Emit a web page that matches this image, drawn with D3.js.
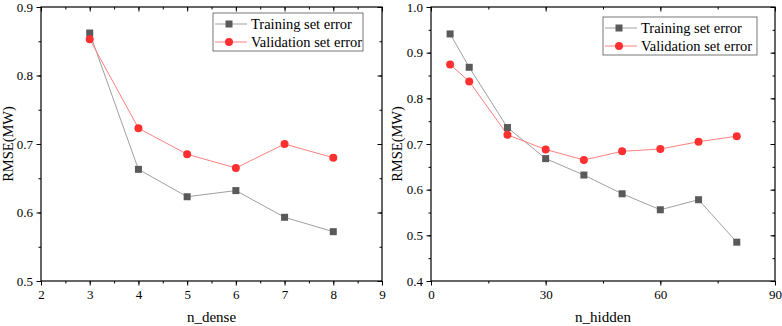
<!DOCTYPE html>
<html><head><meta charset="utf-8">
<script src="https://cdn.jsdelivr.net/npm/d3@7"></script>
<style>body{margin:0;background:#fff}svg{display:block}text{font-family:"Liberation Serif","Times New Roman",serif}</style>
</head><body>
<svg id="c" width="782" height="326"></svg>
<script>
const leftX = [3,4,5,6,7,8];
const leftTrain = [0.862,0.663,0.623,0.632,0.593,0.572];
const leftVal = [0.853,0.723,0.685,0.665,0.700,0.680];
const leftXTicks = [2,3,4,5,6,7,8,9];
const leftYTicks = [0.5,0.6,0.7,0.8,0.9];

const rightX = [5,10,20,30,40,50,60,70,80];
const rightTrain = [0.941,0.868,0.736,0.668,0.632,0.591,0.556,0.578,0.485];
const rightVal = [0.874,0.837,0.720,0.688,0.665,0.684,0.689,0.705,0.717];
const rightXTicks = [0,30,60,90];
const rightYTicks = [0.4,0.5,0.6,0.7,0.8,0.9,1.0];

const seriesNames = ["Training set error","Validation set error"];

const svg = d3.select("#c");

function panel(o){
  const g = svg.append("g");
  const x = d3.scaleLinear().domain(o.xd).range([o.x0,o.x1]);
  const y = d3.scaleLinear().domain(o.yd).range([o.y1,o.y0]);
  const tickLen = 4.5, minorLen = 2.5;
  const xMinor = d3.range(o.xd[0], o.xd[1]+1e-9, o.xMinorStep);
  const yMinor = d3.range(o.yd[0], o.yd[1]+1e-9, 0.05);
  const axB = d3.axisBottom(x).tickValues(o.xt).tickSize(tickLen).tickPadding(4).tickFormat(d3.format("d"));
  const axL = d3.axisLeft(y).tickValues(o.yt).tickSize(tickLen).tickPadding(3.5).tickFormat(d3.format(".1f"));
  const axT = d3.axisTop(x).tickValues(o.xt).tickSize(-tickLen).tickFormat("");
  const axR = d3.axisRight(y).tickValues(o.yt).tickSize(-tickLen).tickFormat("");
  const mB = d3.axisBottom(x).tickValues(xMinor).tickSize(minorLen).tickFormat("");
  const mL = d3.axisLeft(y).tickValues(yMinor).tickSize(minorLen).tickFormat("");
  const mT = d3.axisTop(x).tickValues(xMinor).tickSize(-minorLen).tickFormat("");
  const mR = d3.axisRight(y).tickValues(yMinor).tickSize(-minorLen).tickFormat("");
  const add = (ax, tr) => {
    const a = g.append("g").attr("transform", tr).call(ax);
    a.select(".domain").remove();
    a.selectAll("line").attr("stroke","#000").attr("stroke-width",1);
    a.selectAll("text").attr("font-size",13).attr("fill","#000");
    return a;
  };
  add(mB,`translate(0,${o.y1})`); add(mL,`translate(${o.x0},0)`);
  add(mT,`translate(0,${o.y0})`); add(mR,`translate(${o.x1},0)`);
  add(axB,`translate(0,${o.y1})`); add(axL,`translate(${o.x0},0)`);
  add(axT,`translate(0,${o.y0})`); add(axR,`translate(${o.x1},0)`);
  g.append("rect").attr("x",o.x0).attr("y",o.y0).attr("width",o.x1-o.x0).attr("height",o.y1-o.y0)
    .attr("fill","none").attr("stroke","#000").attr("stroke-width",1.2);

  const line = d3.line().x(d=>x(d[0])).y(d=>y(d[1]));
  const tr = o.xs.map((v,i)=>[v,o.train[i]]);
  const va = o.xs.map((v,i)=>[v,o.val[i]]);
  g.append("path").datum(tr).attr("d",line).attr("fill","none").attr("stroke","#a0a0a0").attr("stroke-width",1);
  g.append("path").datum(va).attr("d",line).attr("fill","none").attr("stroke","#ff8080").attr("stroke-width",1);
  g.selectAll(".sq").data(tr).enter().append("rect")
    .attr("x",d=>x(d[0])-3.5).attr("y",d=>y(d[1])-3.5).attr("width",7).attr("height",7).attr("fill","#5a5a5a");
  g.selectAll(".ci").data(va).enter().append("circle")
    .attr("cx",d=>x(d[0])).attr("cy",d=>y(d[1])).attr("r",4).attr("fill","#ff3030");

  g.append("text").attr("x",(o.x0+o.x1)/2).attr("y",322).attr("text-anchor","middle").attr("font-size",15).text(o.xTitle);
  g.append("text").attr("transform",`translate(${o.yTitleX},${(o.y0+o.y1)/2}) rotate(-90)`).attr("text-anchor","middle")
    .attr("dy","0.35em").attr("font-size",14.5).text("RMSE(MW)");

  const L = o.leg;
  g.append("rect").attr("x",L.x).attr("y",L.y).attr("width",L.w).attr("height",38).attr("fill","#fff").attr("stroke","#555").attr("stroke-width",0.8);
  const rows = [{c:"#a0a0a0",m:"#5a5a5a",sq:true},{c:"#ff8080",m:"#ff3030",sq:false}];
  rows.forEach((r,i)=>{
    const cy = L.y + 11 + i*18;
    g.append("line").attr("x1",L.x+2).attr("x2",L.x+34).attr("y1",cy).attr("y2",cy).attr("stroke",r.c).attr("stroke-width",1);
    if(r.sq) g.append("rect").attr("x",L.x+16-3.5).attr("y",cy-3.5).attr("width",7).attr("height",7).attr("fill",r.m);
    else g.append("circle").attr("cx",L.x+16).attr("cy",cy).attr("r",4).attr("fill",r.m);
    g.append("text").attr("x",L.x+38).attr("y",cy+5).attr("font-size",14.5).text(seriesNames[i]);
  });
}

panel({x0:41,x1:382,y0:7,y1:281,xd:[2,9],yd:[0.5,0.9],xt:leftXTicks,yt:leftYTicks,xMinorStep:0.5,
  xs:leftX,train:leftTrain,val:leftVal,xTitle:"n_dense",yTitleX:8,leg:{x:213,y:13,w:150}});
panel({x0:431,x1:775,y0:7,y1:281,xd:[0,90],yd:[0.4,1.0],xt:rightXTicks,yt:rightYTicks,xMinorStep:15,
  xs:rightX,train:rightTrain,val:rightVal,xTitle:"n_hidden",yTitleX:397,leg:{x:603,y:17,w:154}});
</script>
</body></html>
